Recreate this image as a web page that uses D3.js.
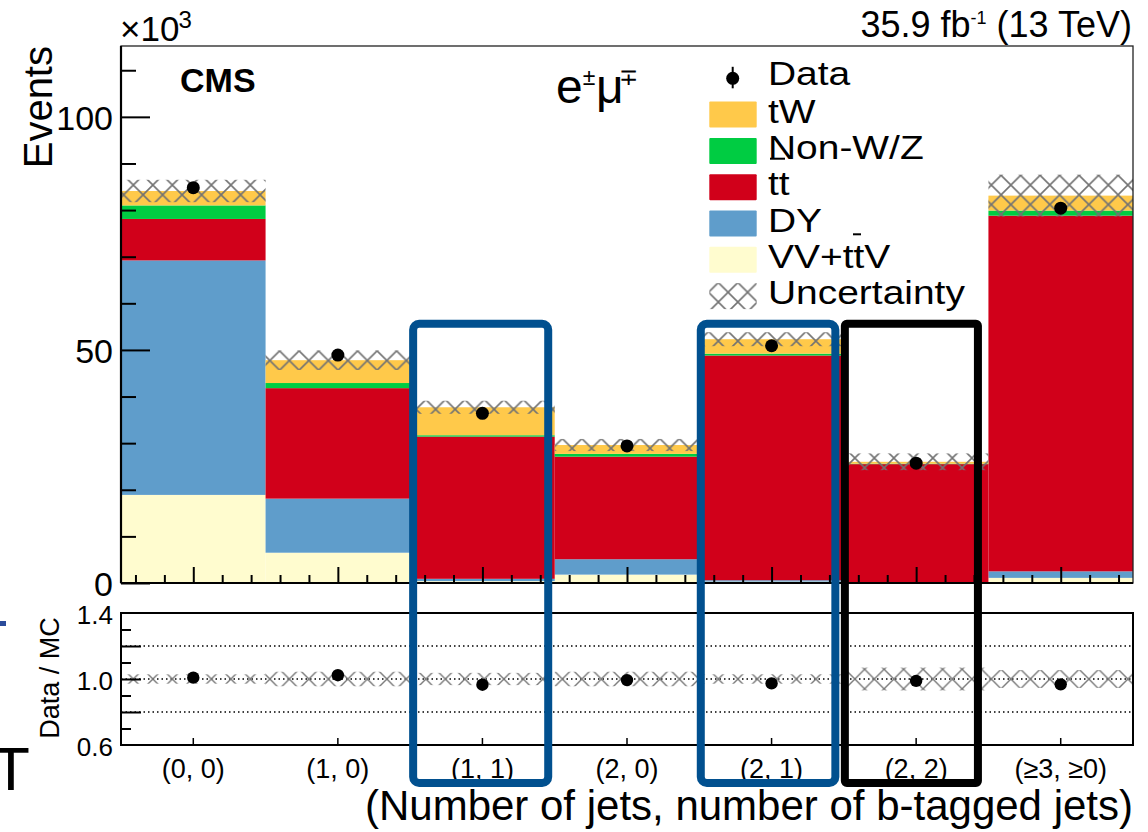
<!DOCTYPE html>
<html>
<head>
<meta charset="utf-8">
<script src="https://cdn.jsdelivr.net/npm/d3@7"></script>
<style>
  html, body { margin: 0; padding: 0; background: #fff; }
  svg { display: block; }
  text { font-family: "Liberation Sans", Arial, Helvetica, sans-serif; fill: #000; }
</style>
</head>
<body>
<svg id="chart" width="1148" height="832"></svg>
<script>
// Event yields per (jets, b-tagged jets) category, in thousands of events
const categories = ["(0, 0)", "(1, 0)", "(1, 1)", "(2, 0)", "(2, 1)", "(2, 2)", "(\u22653, \u22650)"];
const vvTtv  = [18.9, 6.5, 0.4, 1.8, 0.3, 0.1, 1.1];
const dy     = [50.3, 11.6, 0.5, 3.3, 0.3, 0.1, 1.4];
const ttbar  = [8.9, 23.7, 30.5, 22.0, 48.2, 25.3, 76.3];
const nonWZ  = [2.9, 1.1, 0.3, 0.6, 0.4, 0.1, 1.1];
const tW     = [3.1, 4.9, 6.0, 1.9, 3.1, 0.4, 3.2];
const dataYield = [84.8, 48.9, 36.4, 29.4, 50.9, 25.7, 80.4];
const uncert = [2.4, 2.1, 1.4, 1.3, 1.5, 1.8, 4.5];

const mainTicks = [0, 50, 100];
const ratioTicks = [0.6, 1.0, 1.4];

// Processes, stacked bottom to top
const processes = [
  { key: "vv",    label: "VV+ttV", values: vvTtv,  color: "#fffccf" },
  { key: "dy",    label: "DY",     values: dy,     color: "#5f9dcb" },
  { key: "tt",    label: "tt",     values: ttbar,  color: "#d1001a" },
  { key: "nonwz", label: "Non-W/Z",values: nonWZ,  color: "#00cc42" },
  { key: "tw",    label: "tW",     values: tW,     color: "#ffc94a" }
];

// Highlighted categories: index, stroke colour, top value (in thousands)
const highlights = [
  { bin: 2, color: "#01508f", top: 55.6, rx: 6 },
  { bin: 4, color: "#01508f", top: 55.6, rx: 6 },
  { bin: 5, color: "#000000", top: 55.6, rx: 2 }
];

const svg = d3.select("#chart");
const L = 121, R = 1133;
const mainTop = 46, mainBot = 583;
const ratTop = 613, ratBot = 745;

const rows = categories.map((c, i) => {
  const r = { cat: c };
  processes.forEach(p => r[p.key] = p.values[i]);
  return r;
});
const stack = d3.stack().keys(processes.map(p => p.key))(rows);
const totals = rows.map((r, i) => d3.sum(processes, p => p.values[i]));

const x = d3.scaleBand().domain(categories).range([L, R]).padding(0);
const xl = d3.scaleLinear().domain([-0.5, categories.length - 0.5]).range([L, R]);
const y = d3.scaleLinear().domain([0, 115.2]).range([mainBot, mainTop]);
const yr = d3.scaleLinear().domain([0.6, 1.4]).range([ratBot, ratTop]);

// Cross-hatch pattern for the systematic uncertainty band
const defs = svg.append("defs");
const pat = defs.append("pattern").attr("id", "hatch")
  .attr("patternUnits", "userSpaceOnUse")
  .attr("x", 123.6).attr("y", 175.3)
  .attr("width", 19.5).attr("height", 19.5);
pat.append("path").attr("d", "M0,0 L19.5,19.5 M19.5,0 L0,19.5")
  .attr("stroke", "#727272").attr("stroke-width", 1.6).attr("fill", "none");
const pat2 = defs.append("pattern").attr("id", "hatchR")
  .attr("patternUnits", "userSpaceOnUse")
  .attr("x", 123.6).attr("y", 669.3)
  .attr("width", 19.5).attr("height", 19.5);
pat2.append("path").attr("d", "M0,0 L19.5,19.5 M19.5,0 L0,19.5")
  .attr("stroke", "#7a7a7a").attr("stroke-width", 1.4).attr("fill", "none");

// ---- Main panel ----
const gMain = svg.append("g");
stack.forEach((layer, li) => {
  gMain.append("g").selectAll("rect").data(layer).join("rect")
    .attr("x", (d, i) => x(categories[i]))
    .attr("width", x.bandwidth())
    .attr("y", d => y(d[1]))
    .attr("height", d => Math.max(0, y(d[0]) - y(d[1])))
    .attr("fill", processes[li].color);
});

gMain.append("g").selectAll("rect").data(totals).join("rect")
  .attr("x", (d, i) => x(categories[i]))
  .attr("width", x.bandwidth())
  .attr("y", (d, i) => y(d + uncert[i]))
  .attr("height", (d, i) => y(d - uncert[i]) - y(d + uncert[i]))
  .attr("fill", "url(#hatch)");

gMain.append("g").selectAll("circle").data(dataYield).join("circle")
  .attr("cx", (d, i) => x(categories[i]) + x.bandwidth() / 2)
  .attr("cy", d => y(d))
  .attr("r", 6.5).attr("fill", "#000");

// Axes of main panel
const yAxisMajor = d3.axisLeft(y).tickValues(mainTicks).tickSizeInner(-29).tickSizeOuter(0).tickPadding(8);
const yAxisMinor = d3.axisLeft(y).tickValues(d3.range(10, 115, 10).filter(v => v % 50 !== 0)).tickSize(-15).tickFormat("");
const gy = svg.append("g").attr("transform", `translate(${L},0)`).call(yAxisMajor);
gy.selectAll("text").style("font-size", "34px").attr("dy", "0.37em");
const gym = svg.append("g").attr("transform", `translate(${L},0)`).call(yAxisMinor);
[gy, gym].forEach(g => { g.select(".domain").remove(); g.selectAll("line").attr("stroke", "#000").attr("stroke-width", 2); });

const xMinorVals = d3.range(-0.4, 6.45, 0.2).map(v => Math.round(v * 10) / 10).filter(v => Math.abs(v - Math.round(v)) > 0.01);
const gxm = svg.append("g").attr("transform", `translate(0,${mainBot})`)
  .call(d3.axisBottom(xl).tickValues(xMinorVals).tickSize(-8).tickFormat(""));
const gxM = svg.append("g").attr("transform", `translate(0,${mainBot})`)
  .call(d3.axisBottom(xl).tickValues(d3.range(0, 7)).tickSize(-16).tickFormat(""));
[gxm, gxM].forEach(g => { g.select(".domain").remove(); g.selectAll("line").attr("stroke", "#000").attr("stroke-width", 2); });

// Frame
svg.append("rect").attr("x", L).attr("y", mainTop).attr("width", R - L).attr("height", mainBot - mainTop)
  .attr("fill", "none").attr("stroke", "#222").attr("stroke-width", 1.3);
svg.append("line").attr("x1", L).attr("x2", L).attr("y1", mainTop).attr("y2", mainBot).attr("stroke", "#000").attr("stroke-width", 2.2);
svg.append("line").attr("x1", L).attr("x2", R).attr("y1", mainBot).attr("y2", mainBot).attr("stroke", "#000").attr("stroke-width", 2.2);

// Labels main
svg.append("text").attr("transform", `translate(52,${mainTop}) rotate(-90)`)
  .attr("text-anchor", "end").style("font-size", "40px").text("Events");
const xe = svg.append("text").attr("x", L - 1).attr("y", 41).style("font-size", "35px");
xe.append("tspan").text("\u00d710");
xe.append("tspan").attr("dy", -13).attr("dx", -1).style("font-size", "24px").text("3");
svg.append("text").attr("x", 180).attr("y", 92).style("font-size", "34px").style("font-weight", "bold").text("CMS");
const lumi = svg.append("text").attr("x", 1132).attr("y", 37).attr("text-anchor", "end").style("font-size", "36px");
lumi.append("tspan").text("35.9 fb");
lumi.append("tspan").attr("dy", -13).style("font-size", "18px").text("-1");
lumi.append("tspan").attr("dy", 13).text(" (13 TeV)");

// Channel label e±μ∓
const chg = svg.append("g");
chg.append("text").attr("x", 556).attr("y", 103).style("font-size", "48px").text("e");
chg.append("text").attr("x", 589).attr("y", 85).attr("text-anchor", "middle").style("font-size", "23px").text("\u00b1");
chg.append("text").attr("x", 596).attr("y", 103).style("font-size", "48px").text("\u03bc");
chg.append("text").attr("x", 628).attr("y", 85).attr("text-anchor", "middle").style("font-size", "23px").text("\u2213");

// Legend
const legX = 709.3, legW = 47.4, legTxt = 768, rowH = 36.3, row0 = 78.3;
const legFont = "33px", legStretch = 1.18;
const lg = svg.append("g");
function legText(yb, s) {
  lg.append("text").attr("transform", `translate(${legTxt},${yb}) scale(${legStretch},1)`)
    .style("font-size", legFont).text(s);
}
lg.append("line").attr("x1", 732.7).attr("x2", 732.7).attr("y1", row0 - 11.5).attr("y2", row0 + 10)
  .attr("stroke", "#000").attr("stroke-width", 2);
lg.append("circle").attr("cx", 732.7).attr("cy", row0).attr("r", 6.5).attr("fill", "#000");
legText(row0 + 7, "Data");
const legOrder = processes.slice().reverse();
legOrder.forEach((p, i) => {
  const cy = row0 + rowH * (i + 1);
  lg.append("rect").attr("x", legX).attr("y", cy - 13).attr("width", legW).attr("height", 26)
    .attr("fill", p.color).attr("rx", 1);
  legText(cy + 8, p.label);
});
// bars over the anti-top quarks
const ttRowY = row0 + rowH * 3;
lg.append("line").attr("x1", 770).attr("x2", 785).attr("y1", ttRowY - 28.5).attr("y2", ttRowY - 28.5)
  .attr("stroke", "#000").attr("stroke-width", 2);
const vvRowY = row0 + rowH * 5;
lg.append("line").attr("x1", 853).attr("x2", 861).attr("y1", vvRowY - 25.5).attr("y2", vvRowY - 25.5)
  .attr("stroke", "#000").attr("stroke-width", 2);
const uRow = row0 + rowH * 6;
lg.append("rect").attr("x", legX).attr("y", uRow - 13).attr("width", legW).attr("height", 26)
  .attr("fill", "url(#hatch)");
legText(uRow + 8, "Uncertainty");

// ---- Ratio panel ----
const gR = svg.append("g");
[0.8, 1.0, 1.2].forEach(v => {
  gR.append("line").attr("x1", L).attr("x2", R).attr("y1", yr(v)).attr("y2", yr(v))
    .attr("stroke", "#000").attr("stroke-width", 1.4).attr("stroke-dasharray", "1.5,3");
});
gR.append("g").selectAll("rect").data(totals).join("rect")
  .attr("x", (d, i) => x(categories[i]))
  .attr("width", x.bandwidth())
  .attr("y", (d, i) => yr(1 + uncert[i] / d))
  .attr("height", (d, i) => yr(1 - uncert[i] / d) - yr(1 + uncert[i] / d))
  .attr("fill", "url(#hatchR)");
gR.append("g").selectAll("circle").data(dataYield).join("circle")
  .attr("cx", (d, i) => x(categories[i]) + x.bandwidth() / 2)
  .attr("cy", (d, i) => yr(d / totals[i]))
  .attr("r", 6.2).attr("fill", "#000");

const gry = svg.append("g").attr("transform", `translate(${L},0)`)
  .call(d3.axisLeft(yr).tickValues(ratioTicks).tickSizeInner(0).tickSizeOuter(0).tickPadding(8).tickFormat(d3.format(".1f")));
gry.select(".domain").remove();
gry.selectAll("text").style("font-size", "26px").attr("dy", "0.42em");
const grM = svg.append("g").attr("transform", `translate(${L},0)`)
  .call(d3.axisLeft(yr).tickValues([0.8, 1.0, 1.2]).tickSize(-20).tickFormat(""));
const grm = svg.append("g").attr("transform", `translate(${L},0)`)
  .call(d3.axisLeft(yr).tickValues([0.7, 0.9, 1.1, 1.3]).tickSize(-10).tickFormat(""));
[grM, grm].forEach(g => { g.select(".domain").remove(); g.selectAll("line").attr("stroke", "#000").attr("stroke-width", 2); });

const grx = svg.append("g").attr("transform", `translate(0,${ratBot})`)
  .call(d3.axisBottom(x).tickSizeInner(-7).tickSizeOuter(0).tickPadding(14));
grx.select(".domain").remove();
grx.selectAll("line").attr("stroke", "#000").attr("stroke-width", 1.5);
grx.selectAll("text").style("font-size", "27px").attr("dy", "0.71em");

svg.append("rect").attr("x", L).attr("y", ratTop).attr("width", R - L).attr("height", ratBot - ratTop)
  .attr("fill", "none").attr("stroke", "#000").attr("stroke-width", 2);

svg.append("text").attr("transform", `translate(59,678) rotate(-90)`)
  .attr("text-anchor", "middle").style("font-size", "27px").text("Data / MC");
svg.append("text").attr("x", R).attr("y", 820).attr("text-anchor", "end")
  .style("font-size", "42px").text("(Number of jets, number of b-tagged jets)");

// Stray marks at the left margin
svg.append("rect").attr("x", 0).attr("y", 621).attr("width", 6).attr("height", 5).attr("fill", "#2b4c9b");
svg.append("text").attr("x", 11).attr("y", 790).attr("text-anchor", "middle").style("font-size", "62px").text("T");

// ---- Highlight boxes around selected categories ----
const insets = [[3, 6.5], [1.5, 8.5], [1, 10.5]];
highlights.forEach((h, k) => {
  const x0 = x(categories[h.bin]) + insets[k][0];
  const x1 = x(categories[h.bin]) + x.bandwidth() - insets[k][1];
  svg.append("rect").attr("x", x0).attr("y", y(h.top)).attr("width", x1 - x0).attr("height", 783 - y(h.top))
    .attr("fill", "none").attr("stroke", h.color).attr("stroke-width", 8).attr("rx", h.rx);
});
</script>
</body>
</html>
